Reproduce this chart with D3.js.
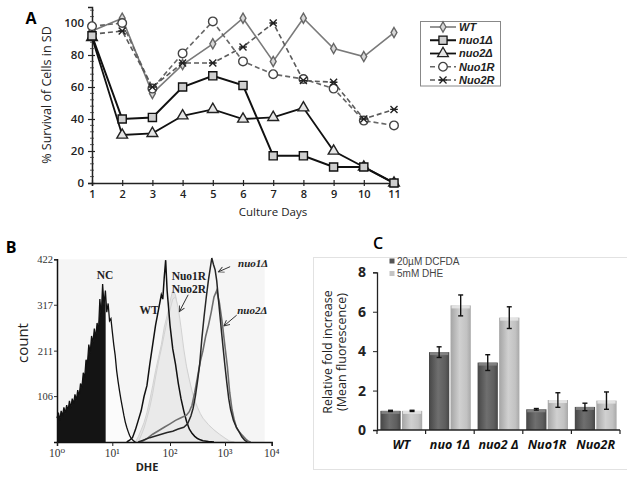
<!DOCTYPE html>
<html><head><meta charset="utf-8">
<script src="https://cdn.jsdelivr.net/npm/d3@7"></script>
<style>body{margin:0;background:#fff}svg{display:block}</style>
</head><body>
<svg id="c" width="627" height="482"></svg>
<script>
// ---------- Panel A data ----------
const days = [1,2,3,4,5,6,7,8,9,10,11];
const yTicksA = [0,20,40,60,80,100];
const wtA    = [95,103,56,74,87,103,76,103,84,79,94];
const nuo1A  = [92,40,41,60,67,61,17,17,10,10,0];
const nuo2A  = [91,30,31,42,46,40,41,47,20,10,0];
const nuo1RA = [98,100,59,81,101,76,68,65,59,39,36];
const nuo2RA = [93,95,60,75,75,85,100,64,63,40,46];
const seriesNamesA = ["WT","nuo1Δ","nuo2Δ","Nuo1R","Nuo2R"];

// ---------- Panel B data (log10 DHE, count) ----------
const decadesB = [0,1,2,3,4];
const countTicksB = [106,211,317,422];
const ncHist = [[0,55],[0.025,68],[0.05,50],[0.075,72],[0.1,60],[0.125,80],[0.15,66],[0.175,85],[0.2,72],[0.225,95],[0.25,78],[0.275,100],[0.3,88],[0.325,110],[0.35,96],[0.375,120],[0.4,105],[0.425,135],[0.45,125],[0.475,160],[0.5,148],[0.525,190],[0.55,180],[0.575,225],[0.6,205],[0.625,245],[0.65,228],[0.675,262],[0.7,240],[0.725,275],[0.75,255],[0.775,330],[0.8,290],[0.825,365],[0.85,315],[0.875,350],[0.9,300],[0.925,320],[0.95,280],[0.975,285],[1.0,255],[1.025,225],[1.05,200],[1.075,165],[1.1,140],[1.125,118],[1.15,98],[1.175,80],[1.2,62],[1.225,46],[1.25,34],[1.275,24],[1.3,15],[1.325,9],[1.35,5],[1.375,2],[1.4,0]];
const wtHist = [[1.25,0],[1.3,4],[1.35,10],[1.4,28],[1.45,50],[1.5,72],[1.55,105],[1.6,130],[1.65,180],[1.7,225],[1.75,270],[1.8,305],[1.85,340],[1.875,330],[1.9,380],[1.925,420],[1.95,350],[1.975,310],[2.0,270],[2.05,215],[2.1,180],[2.15,136],[2.2,100],[2.25,72],[2.3,48],[2.35,30],[2.4,20],[2.45,13],[2.5,8],[2.55,5],[2.6,3],[2.7,1],[2.8,0]];
const nuo1RHist = [[1.4,0],[1.45,12],[1.5,28],[1.55,45],[1.6,68],[1.65,97],[1.7,130],[1.75,165],[1.8,195],[1.85,225],[1.9,265],[1.95,292],[2.0,325],[2.05,350],[2.1,340],[2.15,300],[2.2,240],[2.25,200],[2.3,170],[2.35,140],[2.4,112],[2.45,92],[2.5,76],[2.55,62],[2.6,52],[2.7,38],[2.8,27],[2.9,16],[3.0,7],[3.1,1],[3.15,0]];
const nuo2RHist = [[1.45,0],[1.5,15],[1.55,32],[1.6,55],[1.65,80],[1.7,112],[1.75,150],[1.8,185],[1.85,215],[1.9,248],[1.95,280],[2.0,305],[2.05,330],[2.1,335],[2.15,310],[2.2,265],[2.25,215],[2.3,175],[2.35,145],[2.4,118],[2.45,96],[2.5,80],[2.55,66],[2.6,55],[2.7,40],[2.8,28],[2.9,18],[3.0,9],[3.1,2],[3.2,0]];
const nuo1Hist = [[1.45,0],[1.55,5],[1.65,10],[1.75,14],[1.85,18],[1.95,22],[2.05,25],[2.15,30],[2.25,34],[2.32,42],[2.38,60],[2.42,78],[2.46,105],[2.5,140],[2.54,180],[2.58,240],[2.62,290],[2.66,335],[2.7,375],[2.73,400],[2.76,425],[2.79,410],[2.82,398],[2.85,372],[2.88,330],[2.91,290],[2.94,250],[2.97,212],[3.0,175],[3.04,136],[3.08,100],[3.12,75],[3.18,50],[3.24,35],[3.3,24],[3.36,12],[3.42,4],[3.48,0]];
const nuo2Hist = [[1.5,0],[1.6,8],[1.7,18],[1.8,26],[1.9,34],[2.0,42],[2.1,50],[2.2,56],[2.3,62],[2.35,70],[2.4,85],[2.45,115],[2.5,150],[2.55,185],[2.6,212],[2.65,245],[2.7,270],[2.75,300],[2.8,335],[2.85,350],[2.9,320],[2.95,275],[3.0,220],[3.05,175],[3.1,115],[3.15,75],[3.2,50],[3.25,32],[3.3,24],[3.35,18],[3.4,12],[3.45,6],[3.5,2],[3.55,0]];

// ---------- Panel C data ----------
const strainsC = ["WT","nuo 1Δ","nuo2 Δ","Nuo1R","Nuo2R"];
const dyesC = ["20µM DCFDA","5mM DHE"];
const dcfdaVals = [0.97,3.95,3.42,1.05,1.17];
const dcfdaErr  = [0.03,0.27,0.4,0.04,0.19];
const dheVals   = [0.97,6.32,5.7,1.52,1.49];
const dheErr    = [0.03,0.53,0.55,0.37,0.44];
const yTicksC = [0,2,4,6,8];

const svg = d3.select("#c");
const sans = "'Open Sans', 'Liberation Sans', sans-serif";
const lsans = "'Liberation Sans', Arial, sans-serif";
const serif = "'Liberation Serif', 'DejaVu Serif', serif";

// ================= PANEL A =================
const gA = svg.append("g");
const xA = d3.scaleLinear().domain([1,11]).range([92,394]);
const yA = d3.scaleLinear().domain([0,110]).range([183,7]);

gA.append("text").attr("x",31).attr("y",24).attr("text-anchor","middle")
  .attr("font-family",sans).attr("font-weight",700).attr("font-size",16).text("A");

const yAx = gA.append("g").attr("transform","translate(92,0)")
  .call(d3.axisLeft(yA).tickValues(yTicksA).tickSize(4).tickPadding(4));
yAx.select(".domain").attr("stroke","#222").attr("stroke-width",1.5);
yAx.selectAll(".tick line").attr("stroke","#222").attr("x2",-4).attr("x1",3).attr("stroke-width",1.2);
yAx.selectAll("text").attr("font-family",sans).attr("font-weight",600).attr("font-size",11.5).attr("fill","#222");
gA.selectAll(".minA").data(d3.range(4,110,4).filter(v=>v%20!==0)).join("line")
  .attr("x1",90).attr("x2",94).attr("y1",d=>yA(d)).attr("y2",d=>yA(d)).attr("stroke","#333").attr("stroke-width",0.8);

const xAx = gA.append("g").attr("transform","translate(0,183)")
  .call(d3.axisBottom(xA).tickValues(days).tickSize(3).tickPadding(4));
xAx.select(".domain").attr("stroke","#222").attr("stroke-width",1.5);
xAx.selectAll(".tick line").attr("stroke","#222").attr("y1",-3).attr("stroke-width",1.2);
xAx.selectAll("text").attr("font-family",sans).attr("font-weight",600).attr("font-size",11).attr("fill","#222");

gA.append("text").attr("x",273).attr("y",216).attr("text-anchor","middle")
  .attr("font-family",sans).attr("font-size",11.5).attr("fill","#222").text("Culture Days");
gA.append("text").attr("transform","translate(51,95) rotate(-90)").attr("text-anchor","middle")
  .attr("font-family",sans).attr("font-size",12.5).attr("fill","#222").text("% Survival of Cells in SD");

function starPath(s){
  return `M${-s},${-s}L${s},${s}M${-s},${s}L${s},${-s}M${-s*1.1},0L${s*1.1},0`;
}
const styleA = [
  {vals:wtA,    stroke:"#7a7a7a", w:1.6, dash:null, sym:d3.symbolDiamond, size:30, fill:"#d8d8d8", ms:"#666"},
  {vals:nuo1A,  stroke:"#111",    w:2.0, dash:null, sym:d3.symbolSquare,  size:66, fill:"#cfcfcf", ms:"#111"},
  {vals:nuo2A,  stroke:"#111",    w:1.8, dash:null, sym:d3.symbolTriangle,size:50, fill:"#e6e6e6", ms:"#222"},
  {vals:nuo1RA, stroke:"#666",    w:1.6, dash:"5,3",sym:d3.symbolCircle,  size:58, fill:"#fff",    ms:"#444"},
  {vals:nuo2RA, stroke:"#5a5a5a", w:1.6, dash:"5,3",sym:"star",           size:3.5,fill:"none",    ms:"#222"}
];
const drawOrder = [0,3,4,2,1];
const lineA = d3.line().x((d,i)=>xA(days[i])).y(d=>yA(d));
drawOrder.forEach(k=>{
  const s = styleA[k];
  gA.append("path").attr("d",lineA(s.vals)).attr("fill","none").attr("stroke",s.stroke)
    .attr("stroke-width",s.w).attr("stroke-dasharray",s.dash);
});
drawOrder.forEach(k=>{
  const s = styleA[k];
  gA.selectAll(null).data(s.vals).join("path")
    .attr("transform",(d,i)=>`translate(${xA(days[i])},${yA(d)})`)
    .attr("d", s.sym==="star" ? starPath(s.size) : d3.symbol().type(s.sym).size(s.size)())
    .attr("fill",s.fill).attr("stroke",s.ms).attr("stroke-width",1.4);
});

const legA = gA.append("g");
legA.append("rect").attr("x",420.5).attr("y",21.5).attr("width",80).attr("height",64.5)
  .attr("fill","#fff").attr("stroke","#888").attr("stroke-width",1);
const legY = d3.scalePoint().domain(seriesNamesA).range([27,80]);
seriesNamesA.forEach((n,k)=>{
  const s = styleA[k], y = legY(n);
  legA.append("line").attr("x1",430).attr("x2",456).attr("y1",y).attr("y2",y)
    .attr("stroke",s.stroke).attr("stroke-width",s.w).attr("stroke-dasharray",s.dash);
  legA.append("path").attr("transform",`translate(443,${y})`)
    .attr("d", s.sym==="star" ? starPath(s.size) : d3.symbol().type(s.sym).size(s.size)())
    .attr("fill",s.fill).attr("stroke",s.ms).attr("stroke-width",1.3);
  legA.append("text").attr("x",459).attr("y",y).attr("dy","0.35em")
    .attr("font-family",lsans).attr("font-style","italic").attr("font-weight",700)
    .attr("font-size",11).attr("fill","#222").text(n);
});

// ================= PANEL B =================
const gB = svg.append("g");
const xB = d3.scaleLinear().domain(decadesB).range([57,112.3,170,225,271.7]);
const yB = d3.scaleLinear().domain([0,422]).range([442,259.3]);

gB.append("text").attr("x",11).attr("y",253).attr("text-anchor","middle")
  .attr("font-family",sans).attr("font-weight",700).attr("font-size",16).text("B");

gB.append("rect").attr("x",xB(0)).attr("y",yB(422)).attr("width",xB(3.85)-xB(0)).attr("height",yB(0)-yB(422))
  .attr("fill","#f5f5f5");

const defs = svg.append("defs");
defs.append("clipPath").attr("id","ncLeft").append("rect")
  .attr("x",xB(0)).attr("y",0).attr("width",xB(0.88)-xB(0)).attr("height",482);
defs.append("marker").attr("id","arr").attr("viewBox","0 0 10 10").attr("refX",9).attr("refY",5)
  .attr("markerWidth",7).attr("markerHeight",7).attr("orient","auto")
  .append("path").attr("d","M1,1L9,5L1,9").attr("fill","none").attr("stroke","#333").attr("stroke-width",1.3);

const areaB = d3.area().x(d=>xB(d[0])).y0(yB(0)).y1(d=>yB(d[1]));
const lineB = d3.line().x(d=>xB(d[0])).y(d=>yB(d[1]));

[[nuo1RHist,"#e2e2e2"],[nuo2RHist,"#eaeaea"]].forEach(([h,c])=>{
  gB.append("path").attr("d",areaB(h)).attr("fill",c).attr("fill-opacity",0.9)
    .attr("stroke","#d2d2d2").attr("stroke-width",1);
});
gB.append("path").attr("d",areaB(ncHist)).attr("fill","#fbfbfb");
gB.append("path").attr("d",areaB(ncHist)).attr("fill","#141414").attr("clip-path","url(#ncLeft)");
gB.append("path").attr("d",lineB(ncHist)).attr("fill","none").attr("stroke","#111").attr("stroke-width",1.3);
gB.append("path").attr("d",lineB(wtHist)).attr("fill","none").attr("stroke","#111").attr("stroke-width",1.5);
gB.append("path").attr("d",lineB(nuo2Hist)).attr("fill","none").attr("stroke","#6e6e6e").attr("stroke-width",1.6);
gB.append("path").attr("d",lineB(nuo1Hist)).attr("fill","none").attr("stroke","#262626").attr("stroke-width",1.5);

const yBx = gB.append("g").attr("transform",`translate(${xB(0)},0)`)
  .call(d3.axisLeft(yB).tickValues(countTicksB).tickSize(3).tickPadding(1));
yBx.select(".domain").attr("stroke","#111").attr("stroke-width",1.5);
yBx.selectAll(".tick line").attr("stroke","#333");
yBx.selectAll("text").attr("font-family",serif).attr("font-size",10.5).attr("fill","#333");

const xBx = gB.append("g").attr("transform",`translate(0,${yB(0)})`)
  .call(d3.axisBottom(xB).tickValues(decadesB).tickSize(4).tickFormat(""));
xBx.select(".domain").attr("stroke","#111").attr("stroke-width",1.5);
xBx.selectAll(".tick line").attr("stroke","#222");
const supMap = ["⁰","¹","²","³","⁴"];
gB.selectAll(".xlabB").data(decadesB).join("text")
  .attr("x",d=>xB(d)).attr("y",457).attr("text-anchor","middle")
  .attr("font-family",serif).attr("font-size",11.5).attr("fill","#333")
  .text(d=>"10"+supMap[d]);

gB.append("text").attr("x",147).attr("y",471).attr("text-anchor","middle")
  .attr("font-family",sans).attr("font-weight",700).attr("font-size",11).attr("fill","#222").text("DHE");
gB.append("text").attr("transform","translate(28,343) rotate(-90)").attr("text-anchor","middle")
  .attr("font-family",sans).attr("font-size",15).attr("fill","#222").text("count");

const annB = [
  {t:"NC", x:0.72, c:386, it:false},
  {t:"WT", x:1.47, c:305, it:false},
  {t:"Nuo1R", x:2.03, c:384, it:false},
  {t:"Nuo2R", x:2.03, c:353, it:false},
  {t:"nuo1Δ", x:3.28, c:413, it:true},
  {t:"nuo2Δ", x:3.26, c:305, it:true}
];
gB.selectAll(".annB").data(annB).join("text")
  .attr("x",d=>xB(d.x)).attr("y",d=>yB(d.c)).attr("dy","0.35em")
  .attr("font-family",serif).attr("font-weight",700).attr("font-size",d=>d.it?11:11.5)
  .attr("font-style",d=>d.it?"italic":"normal").attr("fill","#222").text(d=>d.t);
const arrowsB = [
  {x1:3.11,c1:405,x2:2.88,c2:393},
  {x1:3.25,c1:293,x2:2.98,c2:268},
  {x1:2.33,c1:340,x2:2.17,c2:301}
];
gB.selectAll(".arrB").data(arrowsB).join("line")
  .attr("x1",d=>xB(d.x1)).attr("y1",d=>yB(d.c1)).attr("x2",d=>xB(d.x2)).attr("y2",d=>yB(d.c2))
  .attr("stroke","#333").attr("stroke-width",1).attr("marker-end","url(#arr)");

// ================= PANEL C =================
const gC = svg.append("g");
gC.append("text").attr("x",378).attr("y",249).attr("text-anchor","middle")
  .attr("font-family",sans).attr("font-weight",600).attr("font-size",16).text("C");
gC.append("rect").attr("x",313.5).attr("y",257.5).attr("width",330).attr("height",212)
  .attr("fill","#fff").attr("stroke","#e2e2e2").attr("stroke-width",1);

const x0C = d3.scaleBand().domain(strainsC).range([377,620]).paddingInner(0.14).paddingOuter(0.07);
const x1C = d3.scaleBand().domain(dyesC).range([0,x0C.bandwidth()]).paddingInner(0.06);
const yC = d3.scaleLinear().domain([0,8]).range([430,272.3]);

const gd = defs.append("linearGradient").attr("id","gDark").attr("x1",0).attr("x2",1).attr("y1",0).attr("y2",0);
[[0,"#464646"],[0.45,"#6f6f6f"],[0.8,"#5e5e5e"],[1,"#474747"]].forEach(s=>gd.append("stop").attr("offset",s[0]).attr("stop-color",s[1]));
const gl = defs.append("linearGradient").attr("id","gLight").attr("x1",0).attr("x2",1).attr("y1",0).attr("y2",0);
[[0,"#a4a4a4"],[0.45,"#d0d0d0"],[0.8,"#c2c2c2"],[1,"#a8a8a8"]].forEach(s=>gl.append("stop").attr("offset",s[0]).attr("stop-color",s[1]));

const barData = [];
strainsC.forEach((s,i)=>{
  barData.push({s, dye:dyesC[0], v:dcfdaVals[i], e:dcfdaErr[i], f:"url(#gDark)", cap:"#858585"});
  barData.push({s, dye:dyesC[1], v:dheVals[i], e:dheErr[i], f:"url(#gLight)", cap:"#e6e6e6"});
});
const bars = gC.selectAll(".bar").data(barData).join("g");
bars.append("rect").attr("x",d=>x0C(d.s)+x1C(d.dye)).attr("y",d=>yC(d.v))
  .attr("width",x1C.bandwidth()).attr("height",d=>yC(0)-yC(d.v)).attr("fill",d=>d.f);
bars.append("rect").attr("x",d=>x0C(d.s)+x1C(d.dye)+1).attr("y",d=>yC(d.v))
  .attr("width",x1C.bandwidth()-2).attr("height",3).attr("fill",d=>d.cap).attr("opacity",0.9);
bars.each(function(d){
  const g = d3.select(this), cx = x0C(d.s)+x1C(d.dye)+x1C.bandwidth()/2;
  const y1 = yC(d.v+d.e), y2 = yC(d.v-d.e);
  g.append("line").attr("x1",cx).attr("x2",cx).attr("y1",y1).attr("y2",y2).attr("stroke","#111").attr("stroke-width",1.4);
  [y1,y2].forEach(y=>g.append("line").attr("x1",cx-2.5).attr("x2",cx+2.5).attr("y1",y).attr("y2",y).attr("stroke","#111").attr("stroke-width",1.4));
});

const yCx = gC.append("g").attr("transform","translate(377,0)")
  .call(d3.axisLeft(yC).tickValues(yTicksC).tickSize(4).tickPadding(7));
yCx.select(".domain").attr("stroke","#222").attr("stroke-width",1.3);
yCx.selectAll(".tick line").attr("stroke","#222");
yCx.selectAll("text").attr("font-family",sans).attr("font-weight",700).attr("font-size",14).attr("fill","#222");

const xCx = gC.append("g").attr("transform","translate(0,430)");
xCx.append("line").attr("x1",377).attr("x2",620).attr("y1",0).attr("y2",0).attr("stroke","#222").attr("stroke-width",1.3);
const boundaries = strainsC.map(s=>x0C(s)-x0C.step()*x0C.paddingInner()/2).concat([620]);
boundaries[0] = 377;
xCx.selectAll(".tk").data(boundaries).join("line").attr("x1",d=>d).attr("x2",d=>d).attr("y1",0).attr("y2",4)
  .attr("stroke","#222").attr("stroke-width",1.2);
xCx.selectAll(".lab").data(strainsC).join("text")
  .attr("x",s=>x0C(s)+x0C.bandwidth()/2).attr("y",19).attr("text-anchor","middle")
  .attr("font-family",sans).attr("font-style","italic").attr("font-weight",700).attr("font-size",12.5)
  .attr("fill","#111").text(s=>s);

gC.append("text").attr("transform","translate(332,352) rotate(-90)").attr("text-anchor","middle")
  .attr("font-family",sans).attr("font-size",12.5).attr("fill","#222").text("Relative fold increase");
gC.append("text").attr("transform","translate(346,352) rotate(-90)").attr("text-anchor","middle")
  .attr("font-family",sans).attr("font-size",12.5).attr("fill","#222").text("(Mean fluorescence)");

const legC = d3.scalePoint().domain(dyesC).range([261,273.5]);
dyesC.forEach((d,i)=>{
  gC.append("rect").attr("x",389.5).attr("y",legC(d)-2.5).attr("width",5).attr("height",5)
    .attr("fill",i===0?"#555":"#c4c4c4");
  gC.append("text").attr("x",397).attr("y",legC(d)).attr("dy","0.35em")
    .attr("font-family",lsans).attr("font-size",10).attr("fill","#444").text(d);
});
</script>
</body></html>
